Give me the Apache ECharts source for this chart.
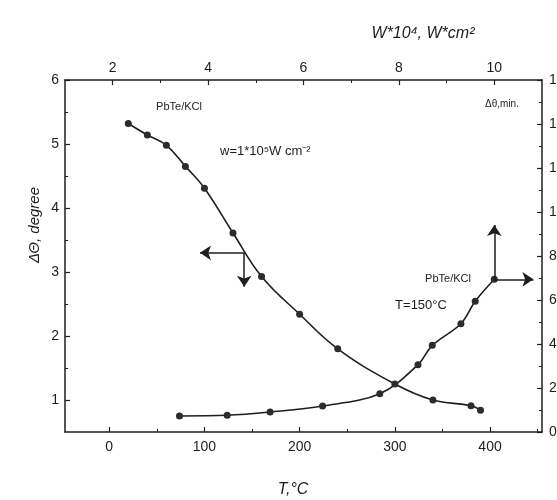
<!DOCTYPE html>
<html>
<head>
<meta charset="utf-8">
<script src="https://cdn.jsdelivr.net/npm/echarts@6/dist/echarts.min.js"></script>
<style>html,body{margin:0;padding:0;background:#fff;overflow:hidden;width:557px;height:500px}#c{position:absolute;left:0;top:0;width:557px;height:500px}</style>
</head>
<body>
<div id="c"></div>
<script>
// Data
const tempC = [20, 40, 60, 80, 100, 130, 160, 200, 240, 300, 340, 380, 390];
const deltaDeg = [5.32, 5.14, 4.98, 4.65, 4.31, 3.61, 2.93, 2.34, 1.80, 1.25, 1.00, 0.91, 0.84];
const powerW = [3.4, 4.4, 5.3, 6.4, 7.6, 8.4, 8.7, 9.3, 9.6, 10.0];
const deltaMin = [0.73, 0.76, 0.91, 1.18, 1.74, 3.06, 3.94, 4.92, 5.94, 6.94];

// Tick labels
const tTicks = [0, 100, 200, 300, 400];
const tMinor = [50, 150, 250, 350, 450];
const wTicks = [2, 4, 6, 8, 10];
const wMinor = [3, 5, 7, 9];
const degTicks = [1, 2, 3, 4, 5, 6];
const degMinor = [1.5, 2.5, 3.5, 4.5, 5.5];
const minTicks = [0, 2, 4, 6, 8, 10, 12, 14, 16];
const minMinor = [1, 3, 5, 7, 9, 11, 13, 15];

const INK = '#1e1e1e';
const FONT = 'Liberation Sans, Arial, sans-serif';
const labelStyle = {color: INK, fontSize: 14, fontFamily: FONT};

function majorAxis(extra) {
  return Object.assign({
    type: 'value', scale: false, splitLine: {show: false},
    axisLine: {show: true, onZero: false, lineStyle: {color: INK, width: 1.5}},
    axisTick: {show: true, inside: true, length: 5, lineStyle: {color: INK, width: 1.2}},
    axisLabel: Object.assign({show: true}, labelStyle)
  }, extra);
}
function minorAxis(extra) {
  return Object.assign({
    type: 'value', splitLine: {show: false},
    axisLine: {show: false, onZero: false},
    axisTick: {show: true, inside: true, length: 3, lineStyle: {color: INK, width: 1}},
    axisLabel: {show: false}
  }, extra);
}

const chart = echarts.init(document.getElementById('c'), null, {width: 557, height: 500});
const tMin = -46.5, tMax = 454.6, wMin = 1, wMax = 11;

chart.setOption({
  animation: false,
  backgroundColor: '#ffffff',
  grid: {left: 65, right: 15, top: 80, bottom: 68, containLabel: false, outerBoundsMode: 'none'},
  xAxis: [
    majorAxis({position: 'bottom', min: tMin, max: tMax,
      axisTick: {show: true, inside: true, length: 5, customValues: tTicks, lineStyle: {color: INK, width: 1.2}},
      axisLabel: Object.assign({customValues: tTicks, margin: 8}, labelStyle)}),
    majorAxis({position: 'top', min: wMin, max: wMax,
      axisTick: {show: true, inside: true, length: 5, customValues: wTicks, lineStyle: {color: INK, width: 1.2}},
      axisLabel: Object.assign({customValues: wTicks, margin: 5}, labelStyle)}),
    minorAxis({position: 'bottom', min: tMin, max: tMax,
      axisTick: {show: true, inside: true, length: 3, customValues: tMinor, lineStyle: {color: INK, width: 1}}}),
    minorAxis({position: 'top', min: wMin, max: wMax,
      axisTick: {show: true, inside: true, length: 3, customValues: wMinor, lineStyle: {color: INK, width: 1}}})
  ],
  yAxis: [
    majorAxis({position: 'left', min: 0.5, max: 6,
      axisTick: {show: true, inside: true, length: 5, customValues: degTicks, lineStyle: {color: INK, width: 1.2}},
      axisLabel: Object.assign({customValues: degTicks, margin: 6}, labelStyle)}),
    majorAxis({position: 'right', min: 0, max: 16,
      axisTick: {show: true, inside: true, length: 5, customValues: minTicks, lineStyle: {color: INK, width: 1.2}},
      axisLabel: Object.assign({customValues: minTicks, margin: 7}, labelStyle)}),
    minorAxis({position: 'left', min: 0.5, max: 6,
      axisTick: {show: true, inside: true, length: 3, customValues: degMinor, lineStyle: {color: INK, width: 1}}}),
    minorAxis({position: 'right', min: 0, max: 16,
      axisTick: {show: true, inside: true, length: 3, customValues: minMinor, lineStyle: {color: INK, width: 1}}})
  ],
  series: [
    {
      name: 'ΔΘ vs T', type: 'line', xAxisIndex: 0, yAxisIndex: 0,
      data: tempC.map((t, i) => [t, deltaDeg[i]]),
      smooth: 0.4, symbol: 'circle', symbolSize: 7,
      lineStyle: {color: INK, width: 1.6}, itemStyle: {color: '#2c2c2c'},
      markLine: {
        silent: true, symbol: ['none', 'arrow'], symbolSize: 11,
        label: {show: false},
        lineStyle: {color: INK, width: 1.5, type: 'solid'},
        data: [
          [{coord: [141.8, 3.30]}, {coord: [95.3, 3.30]}],
          [{coord: [141.8, 3.30]}, {coord: [141.8, 2.77]}]
        ]
      }
    },
    {
      name: 'Δθ vs W', type: 'line', xAxisIndex: 1, yAxisIndex: 1,
      data: powerW.map((w, i) => [w, deltaMin[i]]),
      smooth: 0.35, symbol: 'circle', symbolSize: 7,
      lineStyle: {color: INK, width: 1.6}, itemStyle: {color: '#2c2c2c'},
      markLine: {
        silent: true, symbol: ['none', 'arrow'], symbolSize: 11,
        label: {show: false},
        lineStyle: {color: INK, width: 1.5, type: 'solid'},
        data: [
          [{coord: [powerW[powerW.length - 1], deltaMin[deltaMin.length - 1]]}, {coord: [10.82, deltaMin[deltaMin.length - 1]]}],
          [{coord: [powerW[powerW.length - 1], deltaMin[deltaMin.length - 1]]}, {coord: [powerW[powerW.length - 1], 9.41]}]
        ]
      }
    }
  ],
  graphic: [
    {type: 'text', x: 423, y: 34, style: {text: 'W*10⁴, W*cm²', font: 'italic 16px ' + FONT, fill: INK, textAlign: 'center', textVerticalAlign: 'middle'}},
    {type: 'text', x: 293, y: 490, style: {text: 'T,°C', font: 'italic 16px ' + FONT, fill: INK, textAlign: 'center', textVerticalAlign: 'middle'}},
    {type: 'text', x: 35, y: 225, rotation: Math.PI / 2, style: {text: 'ΔΘ, degree', font: 'italic 15px ' + FONT, fill: INK, textAlign: 'center', textVerticalAlign: 'middle'}},
    {type: 'text', x: 179, y: 107, style: {text: 'PbTe/KCl', font: '11px ' + FONT, fill: INK, textAlign: 'center', textVerticalAlign: 'middle'}},
    {type: 'text', x: 220, y: 151, style: {text: 'w=1*10⁵W cm⁻²', font: '13px ' + FONT, fill: INK, textAlign: 'left', textVerticalAlign: 'middle'}},
    {type: 'text', x: 502, y: 104, style: {text: 'Δθ,min.', font: '10px ' + FONT, fill: INK, textAlign: 'center', textVerticalAlign: 'middle'}},
    {type: 'text', x: 448, y: 279, style: {text: 'PbTe/KCl', font: '11px ' + FONT, fill: INK, textAlign: 'center', textVerticalAlign: 'middle'}},
    {type: 'text', x: 421, y: 305, style: {text: 'T=150°C', font: '13px ' + FONT, fill: INK, textAlign: 'center', textVerticalAlign: 'middle'}}
  ]
});
</script>
</body>
</html>
